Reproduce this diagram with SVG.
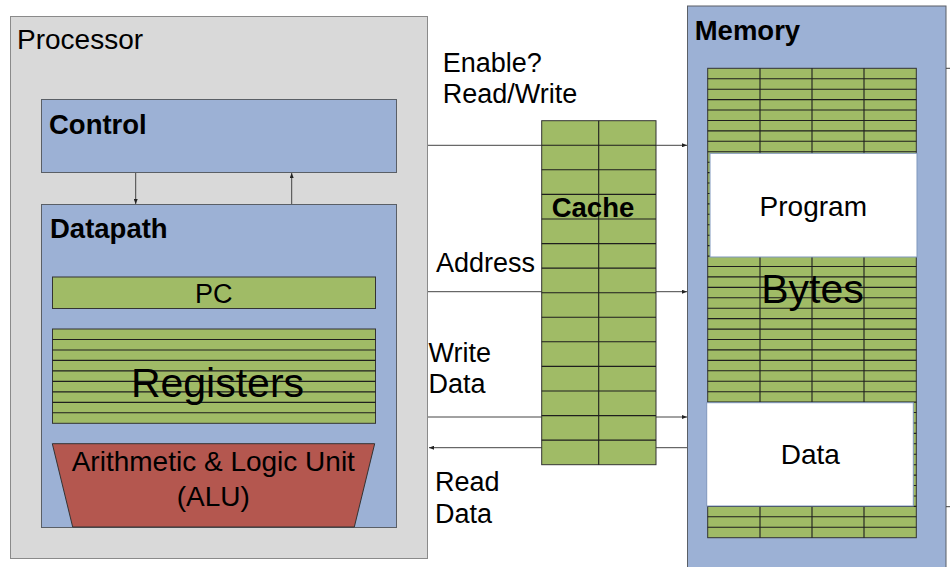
<svg xmlns="http://www.w3.org/2000/svg" width="950" height="567" viewBox="0 0 950 567">
<style>
text{font-family:"Liberation Sans",Arial,sans-serif;fill:#000}
.t{font-size:28px}
.b{font-size:27.5px;font-weight:bold}
.l{font-size:27px}
.big{font-size:41px}
.m{text-anchor:middle}
.blue{fill:#9cb1d5;stroke:#5a5f66;stroke-width:1}
.green{fill:#a0bb66;stroke:#333;stroke-width:1}
.grid{fill:none;stroke:#1e1e1e;stroke-width:1.1}
.conn{fill:none;stroke:#444;stroke-width:1}
.white{fill:#fff;stroke:#7f97bd;stroke-width:1}
</style>
<defs>
<marker id="ah" markerWidth="5" markerHeight="4" refX="5" refY="2" orient="auto" markerUnits="userSpaceOnUse">
<path d="M0,0 L5,2 L0,4 Z" fill="#222"/>
</marker>
</defs>
<rect width="950" height="567" fill="#fff"/>

<g id="processor">
<rect x="10.5" y="16.5" width="417" height="542" fill="#d9d9d9" stroke="#8a8a8a" stroke-width="1"/>
<text class="t" x="17" y="49">Processor</text>
</g>

<g id="control">
<rect class="blue" x="41.5" y="99.5" width="355" height="73"/>
<text class="b" x="49" y="134">Control</text>
</g>

<g id="datapath">
<rect class="blue" x="41.5" y="204.5" width="355" height="323"/>
<text class="b" x="50" y="238">Datapath</text>
</g>

<g id="pc">
<rect class="green" x="52.5" y="277" width="323" height="31.5"/>
<text class="l m" x="213.7" y="302.7">PC</text>
</g>

<g id="registers">
<rect class="green" x="52.5" y="329" width="323" height="94.3"/>
<path class="grid" d="M52.5 339.5H375.5M52.5 350H375.5M52.5 360.4H375.5M52.5 370.9H375.5M52.5 381.4H375.5M52.5 391.9H375.5M52.5 402.4H375.5M52.5 412.8H375.5"/>
<text class="big m" x="217.5" y="396.7">Registers</text>
</g>

<g id="alu">
<path d="M52.3 443.7H374.7L354.3 527H72.7Z" fill="#b4574f" stroke="#333" stroke-width="1"/>
<text class="t m" x="213.3" y="470.7">Arithmetic &amp; Logic Unit</text>
<text class="t m" x="213.3" y="506">(ALU)</text>
</g>

<g id="memory">
<rect class="blue" x="687.5" y="6" width="258.5" height="570"/>
<text class="b" x="694.7" y="40">Memory</text>
<rect class="green" x="707.7" y="68.3" width="208.6" height="469.4"/>
<path class="grid" d="M760 68.3V537.7M812 68.3V537.7M864 68.3V537.7M707.7 78.7H916.3M707.7 89.2H916.3M707.7 99.6H916.3M707.7 110H916.3M707.7 120.5H916.3M707.7 130.9H916.3M707.7 141.3H916.3M707.7 151.8H916.3M707.7 162.2H916.3M707.7 172.6H916.3M707.7 183H916.3M707.7 193.5H916.3M707.7 203.9H916.3M707.7 214.3H916.3M707.7 224.8H916.3M707.7 235.2H916.3M707.7 245.6H916.3M707.7 256.1H916.3M707.7 266.5H916.3M707.7 276.9H916.3M707.7 287.4H916.3M707.7 297.8H916.3M707.7 308.2H916.3M707.7 318.6H916.3M707.7 329.1H916.3M707.7 339.5H916.3M707.7 349.9H916.3M707.7 360.4H916.3M707.7 370.8H916.3M707.7 381.2H916.3M707.7 391.7H916.3M707.7 402.1H916.3M707.7 412.5H916.3M707.7 423H916.3M707.7 433.4H916.3M707.7 443.8H916.3M707.7 454.3H916.3M707.7 464.7H916.3M707.7 475.1H916.3M707.7 485.5H916.3M707.7 496H916.3M707.7 506.4H916.3M707.7 516.8H916.3M707.7 527.3H916.3"/>
<text class="big m" x="812.5" y="303">Bytes</text>
</g>

<g id="program">
<rect class="white" x="710" y="153.3" width="207" height="103.7"/>
<text class="t m" x="813.3" y="216">Program</text>
</g>

<g id="data">
<rect class="white" x="706.7" y="402.7" width="206.6" height="103.3"/>
<text class="t m" x="810.3" y="464">Data</text>
</g>

<g id="connectors">
<line class="conn" x1="135.7" y1="173" x2="135.7" y2="204" marker-end="url(#ah)"/>
<line class="conn" x1="291.7" y1="204" x2="291.7" y2="173" marker-end="url(#ah)"/>
<line class="conn" x1="428" y1="145.3" x2="687" y2="145.3" marker-end="url(#ah)"/>
<line class="conn" x1="428" y1="291.7" x2="687" y2="291.7" marker-end="url(#ah)"/>
<line class="conn" x1="428" y1="417" x2="687" y2="417" marker-end="url(#ah)"/>
<line class="conn" x1="687" y1="447.7" x2="429" y2="447.7" marker-end="url(#ah)"/>
<line class="conn" x1="946" y1="68.3" x2="950" y2="68.3"/>
<line class="conn" x1="946" y1="506.7" x2="950" y2="506.7"/>
</g>

<g id="cache">
<rect class="green" x="541.7" y="120.7" width="114.3" height="344"/>
<path class="grid" d="M598.7 120.7V464.7M541.7 145.3H656M541.7 169.8H656M541.7 194.4H656M541.7 219H656M541.7 243.6H656M541.7 268.1H656M541.7 292.7H656M541.7 317.3H656M541.7 341.8H656M541.7 366.4H656M541.7 391H656M541.7 415.6H656M541.7 440.1H656"/>
<text class="b m" x="593" y="216.7">Cache</text>
</g>

<g id="labels">
<text class="l" x="442.7" y="72.3">Enable?</text>
<text class="l" x="442.7" y="103.3">Read/Write</text>
<text class="l" x="436" y="272.3">Address</text>
<text class="l" x="428.5" y="361.5">Write</text>
<text class="l" x="428.5" y="393.3">Data</text>
<text class="l" x="435" y="490.7">Read</text>
<text class="l" x="435" y="522.7">Data</text>
</g>
</svg>
